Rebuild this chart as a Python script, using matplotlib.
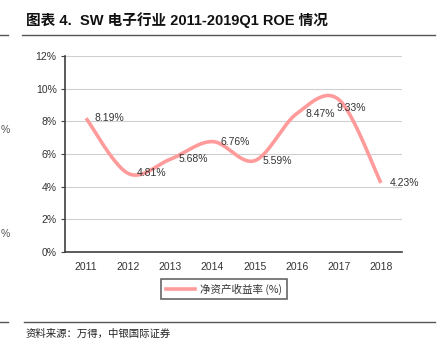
import matplotlib.pyplot as plt
import numpy as np
from matplotlib.lines import Line2D

# 数据
years = ["2011", "2012", "2013", "2014", "2015", "2016", "2017", "2018"]
roe = [8.19, 4.81, 5.68, 6.76, 5.59, 8.47, 9.33, 4.23]
labels = ["8.19%", "4.81%", "5.68%", "6.76%", "5.59%", "8.47%", "9.33%", "4.23%"]
yticks = [0, 2, 4, 6, 8, 10, 12]

cjk = ["Liberation Sans Narrow", "Liberation Sans", "Noto Sans CJK SC"]
plt.rcParams["font.family"] = cjk

line_col = "#FF9B9B"
dark = "#404040"


# 平滑曲线 (类似 Excel 的 Catmull-Rom 样条)
def smooth(x, y, n=30):
    x = np.asarray(x, float)
    y = np.asarray(y, float)
    px = np.concatenate([[x[0]], x, [x[-1]]])
    py = np.concatenate([[y[0]], y, [y[-1]]])
    xs, ys = [], []
    for i in range(1, len(px) - 2):
        p0 = np.array([px[i - 1], py[i - 1]])
        p1 = np.array([px[i], py[i]])
        p2 = np.array([px[i + 1], py[i + 1]])
        p3 = np.array([px[i + 2], py[i + 2]])
        c1 = p1 + (p2 - p0) / 6
        c2 = p2 - (p3 - p1) / 6
        t = np.linspace(0, 1, n)[:, None]
        b = (1 - t) ** 3 * p1 + 3 * (1 - t) ** 2 * t * c1 + 3 * (1 - t) * t ** 2 * c2 + t ** 3 * p2
        xs.append(b[:, 0])
        ys.append(b[:, 1])
    return np.concatenate(xs), np.concatenate(ys)


fig = plt.figure(figsize=(4.4, 3.52), dpi=100)
ax = fig.add_axes([65 / 440, 1 - 252 / 352, 337 / 440, 196 / 352])

x = np.arange(len(years))
sx, sy = smooth(x, roe)
ax.plot(sx, sy, color=line_col, lw=2.6, solid_capstyle="butt", zorder=3)

# 数据标签
for i, (v, lab) in enumerate(zip(roe, labels)):
    if i == 6:
        ax.annotate(lab, (i, v), xytext=(-2, -6), textcoords="offset points",
                    ha="left", va="center", fontsize=7.5, color="#333333")
    else:
        ax.annotate(lab, (i, v), xytext=(6, 0), textcoords="offset points",
                    ha="left", va="center", fontsize=7.5, color="#333333")

ax.set_xlim(-0.5, len(years) - 0.5)
ax.set_ylim(0, 12)
ax.set_xticks(x)
ax.set_xticklabels(years, fontsize=7.5, color="#333333")
ax.set_yticks(yticks)
ax.set_yticklabels([f"{t}%" for t in yticks], fontsize=7.5, color="#333333")
ax.tick_params(axis="x", length=0, pad=7)
ax.tick_params(axis="y", length=3, width=0.8, color=dark, pad=3)
ax.grid(axis="y", color="#D0D0D0", lw=0.8)
ax.set_axisbelow(True)
for s in ["top", "right"]:
    ax.spines[s].set_visible(False)
ax.spines["left"].set_color(dark)
ax.spines["bottom"].set_color(dark)
ax.spines["left"].set_linewidth(1.2)
ax.spines["bottom"].set_linewidth(1.2)

# 图例
h = Line2D([], [], color=line_col, lw=2.6)
leg = fig.legend([h], ["净资产收益率 (%)"], loc="center",
                 bbox_to_anchor=(224 / 440, 1 - 289 / 352),
                 frameon=True, fancybox=False, handlelength=2.8,
                 borderpad=0.45, handletextpad=0.5,
                 prop={"family": ["Noto Sans CJK SC"], "size": 7.6})
leg.get_frame().set_edgecolor(dark)
leg.get_frame().set_linewidth(1.2)
for t in leg.get_texts():
    t.set_color("#333333")

# 标题和来源
fig.text(26 / 440, 1 - 20 / 352, "图表 4.  SW 电子行业 2011-2019Q1 ROE 情况",
         fontsize=10.5, fontweight="bold", va="center", ha="left",
         family=["Liberation Sans", "Noto Sans CJK SC"], color="#111111")
fig.add_artist(Line2D([22 / 440, 435 / 440], [1 - 35 / 352] * 2, color="#555555", lw=1))
fig.add_artist(Line2D([0, 8 / 440], [1 - 35 / 352] * 2, color="#555555", lw=1))
fig.add_artist(Line2D([24 / 440, 435 / 440], [1 - 322 / 352] * 2, color="#555555", lw=1))
fig.add_artist(Line2D([0, 8 / 440], [1 - 322 / 352] * 2, color="#555555", lw=1))
fig.text(26 / 440, 1 - 334 / 352, "资料来源：万得，中银国际证券", fontsize=7.5,
         style="italic", va="center", ha="left",
         family=["Noto Sans CJK SC"], color="#222222")

# 左侧残留文字
fig.text(1 / 440, 1 - 130 / 352, "%", fontsize=7.5, ha="left", va="center", color="#555555")
fig.text(1 / 440, 1 - 234 / 352, "%", fontsize=7.5, ha="left", va="center", color="#555555")

fig.savefig("out.png", dpi=100)
